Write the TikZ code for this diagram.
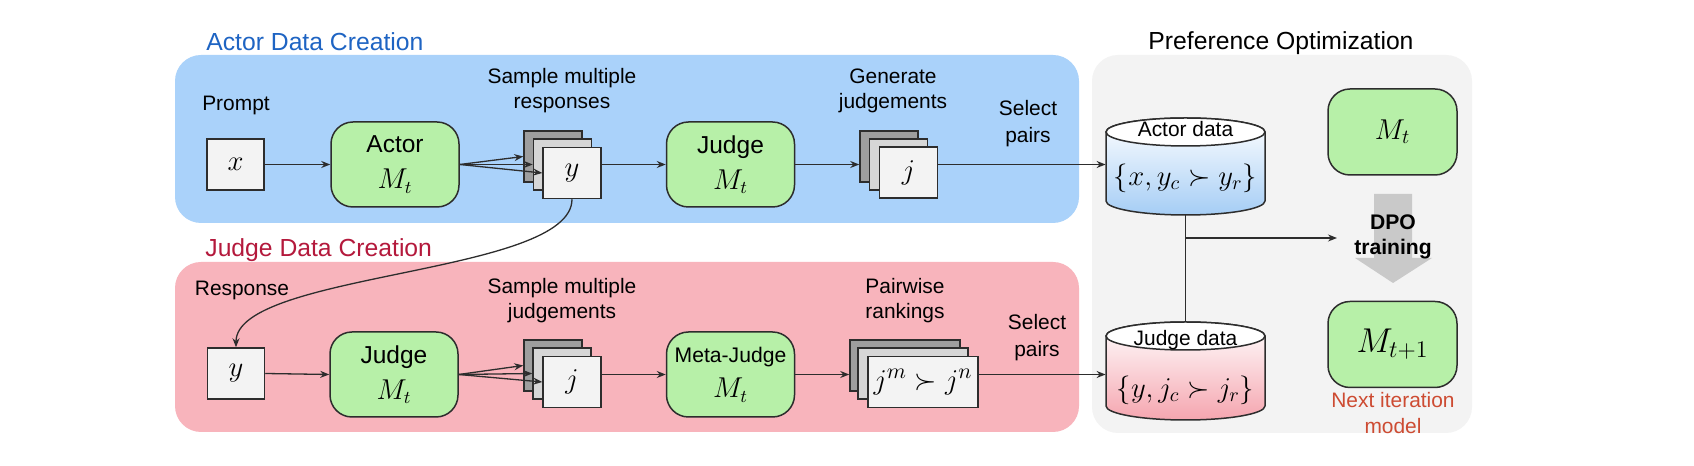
\documentclass[tikz,border=0pt]{standalone}
\usepackage{fontspec}
\setmainfont{Liberation Sans}
\usetikzlibrary{arrows.meta}
\definecolor{panelblue}{RGB}{170,210,250}
\definecolor{panelpink}{RGB}{248,180,188}
\definecolor{panelgray}{RGB}{243,243,243}
\definecolor{modelgreen}{RGB}{183,240,168}
\definecolor{boxgray}{RGB}{243,243,243}
\definecolor{cardmid}{RGB}{214,214,214}
\definecolor{carddark}{RGB}{158,158,158}
\definecolor{titleblue}{RGB}{30,100,195}
\definecolor{titlered}{RGB}{180,25,60}
\definecolor{nextred}{RGB}{205,75,50}
\definecolor{dpogray}{RGB}{201,201,201}
\definecolor{cylblue}{RGB}{165,205,245}
\definecolor{cylpink}{RGB}{245,165,175}
\definecolor{edgecol}{RGB}{45,45,45}
\begin{document}
\begin{tikzpicture}[x=0.5bp,y=0.5bp,
  model/.style={draw=edgecol, fill=modelgreen, line width=0.75bp, rounded corners=11bp,
    minimum width=64bp, minimum height=42.5bp, inner sep=0pt, align=center,
    font=\fontsize{12.3}{18}\selectfont},
  vbox/.style={draw=edgecol, fill=boxgray, line width=0.75bp, minimum width=28.5bp,
    minimum height=25.5bp, inner sep=0pt, font=\fontsize{15}{17}\selectfont},
  card/.style={draw=edgecol, line width=0.75bp, minimum width=29bp, minimum height=25.5bp,
    inner sep=0pt, font=\fontsize{15}{17}\selectfont},
  cardback/.style={card, fill=carddark},
  cardmidst/.style={card, fill=cardmid},
  cardfront/.style={card, fill=boxgray},
  lbl/.style={align=center, inner sep=0pt, font=\fontsize{10.5}{12.5}\selectfont},
  lblwide/.style={align=center, inner sep=0pt, font=\fontsize{10.5}{13.5}\selectfont},
  ttl/.style={inner sep=0pt, font=\fontsize{12.4}{14}\selectfont},
  conn/.style={draw=edgecol, line width=0.65bp, -{Stealth[length=4.5bp,width=3.5bp]}},
  plainline/.style={draw=edgecol, line width=0.65bp},
  cyl/.style={draw=edgecol, line width=0.75bp}
]
\useasboundingbox (0,0) rectangle (1694,-466);
\fill[white] (0,0) rectangle (1694,-466);

% panels
\fill[panelblue, rounded corners=13bp] (175,-55) rectangle (1079,-223);
\fill[panelpink, rounded corners=13bp] (175,-262) rectangle (1079,-432);
\fill[panelgray, rounded corners=13bp] (1092,-55) rectangle (1472,-433);

% titles
\node[ttl, text=titleblue, anchor=west] (t1) at (206,-42) {Actor Data Creation};
\node[ttl, text=titlered, anchor=west] (t2) at (205,-250) {Judge Data Creation};
\node[ttl] (t3) at (1281,-43) {Preference Optimization};

% ---------- actor row ----------
\node[lbl] (lprompt) at (236,-105) {Prompt};
\node[lbl] (lsample) at (562,-91) {Sample multiple\\responses};
\node[lbl] (lgen) at (893,-91) {Generate\\judgements};
\node[lblwide] (lsel1) at (1028,-124) {Select\\pairs};

\node[vbox] (xbox) at (235.5,-164.5) {$x$};
\node[model] (actor) at (395,-164.5) {Actor\\{\fontsize{13.5}{18}\selectfont$M_t$}};
\node[cardback] (yb) at (553,-156.5) {};
\node[cardmidst] (ym) at (562.5,-164.5) {};
\node[cardfront] (yf) at (572,-173) {$y$};
\node[model] (judge1) at (730.5,-164.5) {Judge\\{\fontsize{13.5}{18}\selectfont$M_t$}};
\node[cardback] (jb) at (889,-156.5) {};
\node[cardmidst] (jm) at (898.5,-164.5) {};
\node[cardfront] (jf) at (908.5,-172.5) {$j$};

\draw[conn] (xbox.east) -- (actor.west);
\draw[conn] (actor.east) -- (yb.west);
\draw[conn] (actor.east) -- (ym.west);
\draw[conn] (actor.east) -- (yf.west);
\draw[conn] (yf.east |- judge1.west) -- (judge1.west);
\draw[conn] (judge1.east) -- (judge1.east -| jb.west);

% ---------- judge row ----------
\node[lbl] (lresp) at (242,-290) {Response};
\node[lbl] (lsample2) at (562,-301) {Sample multiple\\judgements};
\node[lbl] (lpair) at (905,-301) {Pairwise\\rankings};
\node[lblwide] (lsel2) at (1037,-338) {Select\\pairs};

\node[vbox] (ybox) at (236,-373.5) {$y$};
\node[model] (judge2) at (394,-374.5) {Judge\\{\fontsize{13.5}{18}\selectfont$M_t$}};
\node[cardback] (kb) at (553,-365.5) {};
\node[cardmidst] (km) at (562,-373.5) {};
\node[cardfront] (kf) at (572,-382) {$j$};
\node[model, font=\fontsize{10.6}{18}\selectfont] (meta) at (730.5,-374.5) {Meta-Judge\\{\fontsize{13.5}{18}\selectfont$M_t$}};
\node[cardback, minimum width=55bp] (pb) at (905,-365.5) {};
\node[cardmidst, minimum width=55bp] (pm) at (913,-373.5) {};
\node[cardfront, minimum width=55bp] (pf) at (923,-382) {$j^m\succ j^n$};

\draw[conn] (ybox.east) -- (judge2.west);
\draw[conn] (judge2.east) -- (kb.west);
\draw[conn] (judge2.east) -- (km.west);
\draw[conn] (judge2.east) -- (kf.west);
\draw[conn] (kf.east |- meta.west) -- (meta.west);
\draw[conn] (meta.east) -- (meta.east -| pb.west);

% curved connector
\draw[conn] (yf.south) .. controls (572,-275) and (236,-272) .. (ybox.north);

% ---------- cylinders ----------
\node[inner sep=0pt, minimum width=79.5bp, minimum height=48.5bp] (ad) at (1185.5,-166.5) {};
\node[inner sep=0pt, minimum width=79.5bp, minimum height=49bp] (jd) at (1185.5,-371) {};

\path[cyl, top color=white, bottom color=cylblue]
  (1106,-132) -- (1106,-201) arc[start angle=180,end angle=360,x radius=79.5,y radius=14]
  -- (1265,-132) arc[start angle=0,end angle=180,x radius=79.5,y radius=14] -- cycle;
\draw[cyl, fill=white] (1185.5,-132) ellipse [x radius=79.5, y radius=14];
\node[lbl] (adtext) at (1185.5,-129) {Actor data};
\node[inner sep=0pt, font=\fontsize{14}{16}\selectfont] (adform) at (1185.5,-178) {$\{x, y_c \succ y_r\}$};

\path[cyl, top color=white, bottom color=cylpink]
  (1106,-336) -- (1106,-406) arc[start angle=180,end angle=360,x radius=79.5,y radius=14]
  -- (1265,-336) arc[start angle=0,end angle=180,x radius=79.5,y radius=14] -- cycle;
\draw[cyl, fill=white] (1185.5,-336) ellipse [x radius=79.5, y radius=14];
\node[lbl] (jdtext) at (1185.5,-340) {Judge data};
\node[inner sep=0pt, font=\fontsize{14}{16}\selectfont] (jdform) at (1185.5,-390) {$\{y, j_c \succ j_r\}$};

\draw[conn] (jf.east |- judge1.east) -- (judge1.east -| ad.west);
\draw[conn] (pf.east |- meta.east) -- (meta.east -| jd.west);

\draw[plainline] (ad.south) -- (jd.north);
\coordinate (dpoin) at (1337,-238);
\draw[conn] (ad.south |- dpoin) -- (dpoin);

% ---------- preference optimisation ----------
\node[model, minimum width=64.5bp, minimum height=43bp, font=\fontsize{14}{16}\selectfont] (mt) at (1392.5,-132) {$M_t$};
\node[model, minimum width=64.5bp, minimum height=43bp, font=\fontsize{16.5}{18}\selectfont] (mt1) at (1392.5,-344.5) {$M_{t+1}$};
\fill[dpogray] (1374,-194) -- (1412,-194) -- (1412,-258) -- (1432,-258) -- (1393,-283)
  -- (1355,-258) -- (1374,-258) -- cycle;
\node[align=center, inner sep=0pt, font=\bfseries\fontsize{10.6}{12.5}\selectfont] (dpo) at (1393,-237) {DPO\\training};
\node[lblwide, text=nextred] (lnext) at (1393,-413) {Next iteration\\model};
\end{tikzpicture}
\end{document}
